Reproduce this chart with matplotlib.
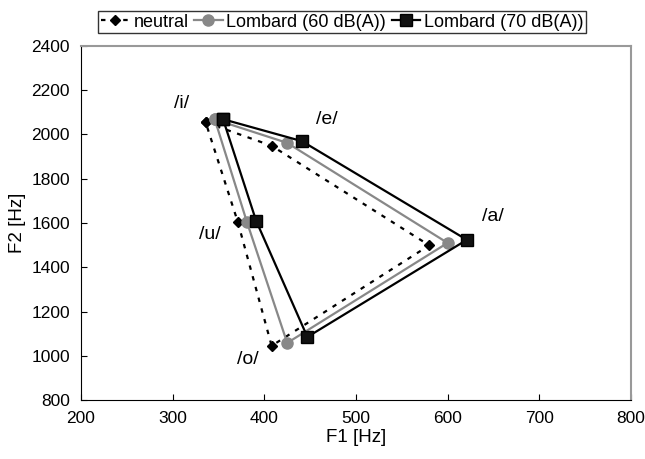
import matplotlib
matplotlib.use("Agg")
import matplotlib.pyplot as plt

plt.rcParams['font.family'] = ['Liberation Sans', 'DejaVu Sans']

# vowel order around the polygon: i, e, a, o, u, back to i
vowels = ['/i/', '/e/', '/a/', '/o/', '/u/']

neutral_f1 = [336, 408, 580, 408, 371]
neutral_f2 = [2055, 1949, 1499, 1045, 1606]

lomb60_f1 = [346, 425, 600, 425, 381]
lomb60_f2 = [2068, 1962, 1510, 1058, 1605]

lomb70_f1 = [355, 441, 621, 447, 391]
lomb70_f2 = [2069, 1970, 1524, 1085, 1611]

# label positions for the vowel names
label_f1 = [310, 468, 649, 382, 341]
label_f2 = [2141, 2066, 1628, 981, 1546]


def closed(v):
    return v + v[:1]


fig = plt.figure(figsize=(6.45, 4.59), dpi=100)
ax = fig.add_axes([0.1256, 0.1285, 0.8525, 0.7713])

ax.plot(closed(neutral_f1), closed(neutral_f2), color='black', linestyle=(0, (2, 3)),
        linewidth=1.6, marker='D', markersize=5.5, label='neutral')
ax.plot(closed(lomb60_f1), closed(lomb60_f2), color='#888888', linestyle='-',
        linewidth=1.6, marker='o', markersize=8, label='Lombard (60 dB(A))')
ax.plot(closed(lomb70_f1), closed(lomb70_f2), color='black', linestyle='-',
        linewidth=1.6, marker='s', markersize=8, markerfacecolor='#111111',
        label='Lombard (70 dB(A))')

for name, x, y in zip(vowels, label_f1, label_f2):
    ax.text(x, y, name, fontsize=14, ha='center', va='center')

ax.set_xlim(200, 800)
ax.set_ylim(800, 2400)
ax.set_xticks(range(200, 801, 100))
ax.set_yticks(range(800, 2401, 200))
ax.tick_params(direction='in', labelsize=12.5, length=4, pad=8)
ax.set_xlabel('F1 [Hz]', fontsize=13.5, labelpad=2)
ax.set_ylabel('F2 [Hz]', fontsize=13.5, labelpad=4)

ax.spines['top'].set_color('#999999')
ax.spines['right'].set_color('#999999')
ax.spines['top'].set_linewidth(1.5)
ax.spines['right'].set_linewidth(1.5)

leg = ax.legend(loc='lower center', bbox_to_anchor=(0.475, 1.01), ncol=3,
                frameon=True, fancybox=False, edgecolor='black', fontsize=13,
                handlelength=1.6, handletextpad=0.2, columnspacing=0.3,
                borderpad=0.15, borderaxespad=0.5)
leg.get_frame().set_linewidth(1.0)

fig.savefig('out.png', dpi=100)
